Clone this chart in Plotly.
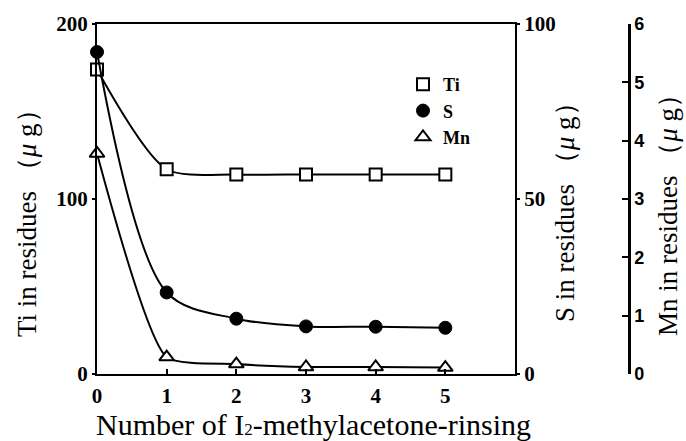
import plotly.graph_objects as go

rinses = [0, 1, 2, 3, 4, 5]
ti_ug = [174, 117, 114, 114, 114, 114]
s_ug = [92, 23.3, 15.8, 13.6, 13.5, 13.2]
mn_ug = [3.78, 0.29, 0.17, 0.12, 0.12, 0.11]

FONT = "Liberation Serif"
BLACK = "black"

fig = go.Figure()

fig.add_trace(go.Scatter(x=rinses, y=ti_ug, mode="lines", line=dict(color=BLACK, width=2, shape="spline", smoothing=0.75),
                         showlegend=False, yaxis="y", hoverinfo="skip"))
fig.add_trace(go.Scatter(x=rinses, y=s_ug, mode="lines", line=dict(color=BLACK, width=2, shape="spline", smoothing=0.9),
                         showlegend=False, yaxis="y2", hoverinfo="skip"))
fig.add_trace(go.Scatter(x=rinses, y=mn_ug, mode="lines", line=dict(color=BLACK, width=2, shape="spline", smoothing=0.55),
                         showlegend=False, yaxis="y3", hoverinfo="skip"))

fig.add_trace(go.Scatter(x=rinses, y=ti_ug, mode="markers", name="Ti", yaxis="y", cliponaxis=False,
                         marker=dict(symbol="square", size=12, color="white", line=dict(color=BLACK, width=2))))
fig.add_trace(go.Scatter(x=rinses, y=s_ug, mode="markers", name="S", yaxis="y2", cliponaxis=False,
                         marker=dict(symbol="circle", size=13, color=BLACK, line=dict(color=BLACK, width=1))))
fig.add_trace(go.Scatter(x=rinses, y=mn_ug, mode="markers", name="Mn", yaxis="y3", cliponaxis=False,
                         marker=dict(symbol="triangle-up", size=13, color="white", line=dict(color=BLACK, width=2))))

W, H = 686, 441
L, R, T, B = 97, 40, 24, 67
pw = W - L - R
ph = H - T - B
x_end = (515 - L) / pw
mn_pos = (629 - L) / pw

tickfont = dict(family=FONT, size=21, color=BLACK, weight="bold")


def px_x(p):
    return (p - L) / pw


def px_y(p):
    return (H - B - p) / ph


fig.update_layout(
    width=W, height=H,
    margin=dict(l=L, r=R, t=T, b=B),
    paper_bgcolor="white", plot_bgcolor="white",
    font=dict(family=FONT, color=BLACK),
    xaxis=dict(domain=[0, x_end], range=[0, 6], tickvals=[0, 1, 2, 3, 4, 5],
               showline=True, linecolor=BLACK, linewidth=2, mirror=True,
               ticks="inside", ticklen=5, tickwidth=1.5, tickcolor=BLACK,
               showgrid=False, zeroline=False, tickfont=tickfont, ticklabelstandoff=2),
    yaxis=dict(range=[0, 200], tickvals=[0, 100, 200],
               showline=True, linecolor=BLACK, linewidth=2,
               ticks="outside", ticklen=3, tickwidth=1.5, tickcolor=BLACK,
               showgrid=False, zeroline=False, tickfont=tickfont),
    yaxis2=dict(range=[0, 100], tickvals=[0, 50, 100], overlaying="y", side="right", anchor="x",
                showline=True, linecolor=BLACK, linewidth=2,
                ticks="outside", ticklen=3, tickwidth=1.5, tickcolor=BLACK,
                showgrid=False, zeroline=False, tickfont=tickfont),
    yaxis3=dict(range=[0, 6], tickvals=[0, 1, 2, 3, 4, 5, 6], overlaying="y", side="right",
                anchor="free", position=mn_pos,
                showline=True, linecolor=BLACK, linewidth=2.5,
                ticks="inside", ticklen=6, tickwidth=1.5, tickcolor=BLACK,
                showgrid=False, zeroline=False,
                tickfont=dict(family="Liberation Sans", size=18, color=BLACK, weight="bold")),
    legend=dict(x=px_x(403), y=px_y(66), xanchor="left", yanchor="top",
                font=dict(family=FONT, size=18, color=BLACK, weight="bold"), bgcolor="rgba(0,0,0,0)",
                tracegroupgap=0),
    annotations=[
        dict(text="Number of I<span style='font-size:17px'>2</span>-methylacetone-rinsing",
             xref="paper", yref="paper",
             x=px_x(313), y=px_y(406), xanchor="center", yanchor="top", showarrow=False,
             font=dict(family=FONT, size=30, color=BLACK)),
        dict(text="Ti in residues （<i>μ</i> g）", xref="paper", yref="paper",
             x=px_x(27), y=px_y(217), xanchor="center", yanchor="middle",
             textangle=-90, showarrow=False, font=dict(family=FONT, size=27, color=BLACK)),
        dict(text="S in residues （<i>μ</i> g）", xref="paper", yref="paper",
             x=px_x(565), y=px_y(206), xanchor="center", yanchor="middle",
             textangle=-90, showarrow=False, font=dict(family=FONT, size=27, color=BLACK)),
        dict(text="Mn in residues （<i>μ</i> g）", xref="paper", yref="paper",
             x=px_x(668), y=px_y(209), xanchor="center", yanchor="middle",
             textangle=-90, showarrow=False, font=dict(family=FONT, size=27, color=BLACK)),
    ],
)

fig.write_html("out.html", config={"displayModeBar": False},
               post_script="document.body.style.margin='0';")
